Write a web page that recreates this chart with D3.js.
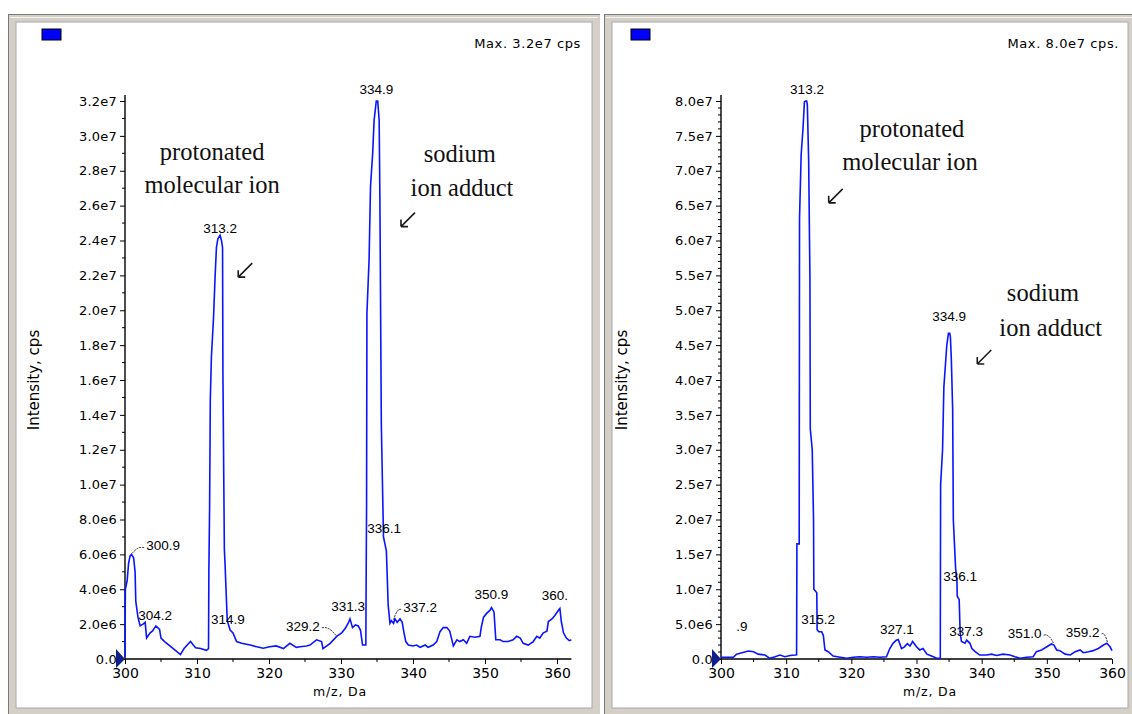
<!DOCTYPE html>
<html><head><meta charset="utf-8">
<script src="https://cdn.jsdelivr.net/npm/d3@7/dist/d3.min.js"></script>
<style>
html,body{margin:0;padding:0;background:#fff;}
svg{display:block;}
</style></head>
<body>
<svg id="chart" width="1132" height="714"></svg>
<script>
// ---------- DATA (intensities in millions of cps) ----------
const leftSpectrum = [
[300.0,0.1],[300.05,4.0],[300.3,4.5],[300.5,5.5],[300.7,5.9],[300.9,6.0],[301.2,5.8],[301.4,5.0],[301.5,3.3],[301.8,2.4],
[302.1,1.9],[302.5,2.0],[302.8,2.1],[303.0,1.2],[303.5,1.5],[303.8,1.6],[304.3,1.9],[304.8,1.7],[305.0,1.2],[305.5,1.0],
[306.4,0.7],[307.0,0.5],[307.7,0.25],[308.2,0.6],[309.1,1.0],[309.8,0.65],[310.5,0.6],[311.3,0.5],[311.6,0.6],
[311.65,5.1],[311.75,8.7],[311.85,14.9],[312.0,17.3],[312.3,19.6],[312.5,21.8],[312.7,23.6],[312.9,24.1],[313.2,24.3],
[313.4,24.0],[313.55,23.6],[313.6,16.4],[313.8,6.3],[313.9,5.4],[314.2,2.2],[314.6,1.66],[315.0,1.5],[315.5,1.0],
[316.2,0.9],[317.4,0.8],[318.3,0.7],[319.2,0.62],[320.1,0.7],[321.0,0.75],[322.0,0.6],[322.9,0.9],[323.8,0.67],[324.3,0.7],
[325.2,0.75],[325.7,0.8],[326.6,1.1],[327.3,1.0],[327.5,0.6],[328.5,0.9],[329.4,1.3],[330.1,1.5],[330.6,1.76],[331.0,2.05],
[331.25,2.3],[331.6,1.8],[332.0,1.95],[332.4,1.9],[332.7,1.66],[333.0,0.8],[333.45,0.8],[333.5,5.1],[333.55,8.7],[333.6,19.8],
[333.9,22.9],[334.1,27.1],[334.4,29.0],[334.6,30.9],[334.9,32.0],[335.1,32.0],[335.3,30.9],[335.4,26.5],[335.6,13.5],
[335.9,7.0],[336.1,6.6],[336.3,6.2],[336.4,5.0],[336.55,3.1],[336.8,2.05],[337.0,2.2],[337.3,2.05],[337.5,2.3],[337.8,2.1],
[338.2,2.3],[338.5,2.1],[338.75,1.5],[339.0,1.0],[339.35,0.8],[340.0,0.75],[340.5,0.8],[341.0,0.67],[341.7,0.8],[342.1,0.67],
[342.8,0.8],[343.3,1.0],[343.75,1.57],[344.2,1.8],[344.7,1.8],[345.1,1.6],[345.4,1.1],[345.6,0.75],[346.1,1.1],[346.5,1.0],
[347.0,1.1],[347.45,0.9],[347.9,1.3],[348.6,1.25],[349.3,1.3],[349.5,1.85],[349.8,2.4],[350.2,2.6],[350.7,2.8],[350.9,2.95],
[351.25,2.7],[351.5,1.1],[352.1,1.1],[352.5,1.0],[353.2,1.0],[353.9,1.1],[354.4,1.3],[354.9,1.2],[355.3,0.9],[356.0,0.8],
[356.7,1.0],[357.2,1.3],[357.6,1.2],[358.1,1.5],[358.6,1.6],[358.8,2.15],[359.3,2.3],[359.7,2.5],[360.2,2.8],[360.4,2.9],
[360.6,2.15],[360.9,1.5],[361.3,1.2],[361.7,1.05],[362.0,1.1]
];
const rightSpectrum = [
[300.0,0.25],[301.9,0.25],[302.4,0.7],[303.2,0.9],[304.2,1.15],[305.0,1.05],[305.7,0.7],[306.75,0.57],[307.5,0.1],[308.3,0.33],
[309.05,0.57],[309.8,0.33],[310.6,0.5],[311.35,0.57],[311.6,0.6],[311.65,16.5],[312.0,16.5],[312.05,63.2],[312.3,72.3],
[312.6,76.3],[312.8,79.9],[313.0,80.0],[313.15,80.0],[313.25,79.4],[313.45,71.5],[313.65,54.3],[313.7,33.0],[314.0,30.0],
[314.2,20.0],[314.25,10.0],[314.7,9.5],[314.75,4.2],[315.0,3.9],[315.45,3.9],[315.7,3.4],[315.95,1.3],[316.45,1.05],
[317.2,0.43],[318.3,0.25],[319.3,0.1],[320.3,0.25],[321.3,0.33],[322.35,0.25],[323.4,0.33],[324.4,0.25],[325.4,0.33],
[325.9,1.5],[326.4,2.25],[326.9,2.7],[327.2,2.8],[327.7,1.5],[328.1,1.7],[328.6,2.2],[329.0,1.85],[329.4,2.5],[330.0,1.75],
[330.5,1.3],[331.0,1.5],[331.6,0.7],[332.3,0.43],[333.1,0.1],[333.65,0.1],[333.7,25.0],[334.0,30.0],[334.2,39.0],
[334.65,45.0],[334.9,46.7],[335.1,46.7],[335.2,46.2],[335.35,42.9],[335.55,35.7],[335.65,20.0],[336.0,13.0],[336.2,11.3],
[336.25,9.0],[336.55,8.5],[336.7,3.7],[336.9,2.5],[337.45,2.25],[337.7,2.7],[338.2,2.25],[338.5,1.5],[339.0,1.05],
[339.7,0.57],[340.8,0.57],[341.5,0.7],[342.3,0.5],[343.3,0.7],[344.35,0.57],[345.1,0.33],[345.9,0.1],[346.9,0.25],
[347.9,0.33],[348.4,1.05],[349.2,1.3],[350.0,1.75],[350.7,2.15],[351.1,2.0],[351.5,1.3],[352.0,1.2],[352.8,0.7],
[353.6,0.57],[354.35,1.05],[355.1,1.3],[355.6,0.9],[356.4,1.05],[357.1,1.2],[357.9,1.5],[358.7,2.0],[359.2,2.25],
[359.7,1.75],[360.0,1.2]
];
const xTicks = [300,310,320,330,340,350,360];
const leftYTicks = [0,2,4,6,8,10,12,14,16,18,20,22,24,26,28,30,32];
const rightYTicks = [0,5,10,15,20,25,30,35,40,45,50,55,60,65,70,75,80];
const leftMaxText = "Max. 3.2e7 cps";
const rightMaxText = "Max. 8.0e7 cps.";
const xTitle = "m/z, Da";
const yTitle = "Intensity, cps";
// peak labels: [text, mz of label centre, intensity of label centre, leader target mz, leader target intensity]
const leftPeakLabels = [
["334.9",334.9,32.7],["313.2",313.2,24.7],["300.9",305.3,6.5,300.9,6.0],["336.1",336.0,7.5],
["304.2",304.2,2.5],["314.9",314.3,2.25],["329.2",324.7,1.9,329.3,1.35],["331.3",331.0,3.05],
["337.2",341.0,2.95,337.3,2.25],["350.9",350.9,3.7],["360.",359.7,3.65]
];
const rightPeakLabels = [
["313.2",313.2,81.7],["334.9",335.0,49.2],["336.1",336.7,11.9],[".9",303.2,4.75],["315.2",314.9,5.75],
["327.1",327.0,4.3],["337.3",337.6,4.0],["351.0",346.6,3.7,351.0,2.3],["359.2",355.5,3.9,359.3,2.4]
];
// serif annotations: [text, mz, intensity] (centre positions)
const leftNotes = [["protonated",312.1,29.1],["molecular ion",312.1,27.2],["sodium",346.5,29.0],["ion adduct",346.8,27.05]];
const leftArrows = [[316.7,22.3],[339.3,25.2]];
const rightNotes = [["protonated",329.3,76.0],["molecular ion",329.0,71.3],["sodium",349.4,52.5],["ion adduct",350.6,47.6]];
const rightArrows = [[317.6,66.4],[340.4,43.3]];

// ---------- DRAW ----------
const SANS = "DejaVu Sans, Verdana, sans-serif";
const svg = d3.select("#chart");
svg.append("rect").attr("width",1132).attr("height",714).attr("fill","#ffffff");

function fmtY(v){ // v in millions
  if(v===0) return "0.0";
  const cps = v*1e6;
  const e = Math.floor(Math.log10(cps)+1e-9);
  return (cps/Math.pow(10,e)).toFixed(1)+"e"+e;
}

function frame(x0,w){
  const g = svg.append("g");
  g.append("rect").attr("x",x0).attr("y",14).attr("width",w).attr("height",700).attr("fill","#d4d0c8");
  g.append("line").attr("x1",x0).attr("x2",x0+w).attr("y1",14.5).attr("y2",14.5).attr("stroke","#7a7a7a");
  g.append("line").attr("x1",x0+0.5).attr("x2",x0+0.5).attr("y1",14).attr("y2",714).attr("stroke","#7a7a7a");
  g.append("line").attr("x1",x0+2).attr("x2",x0+w-2).attr("y1",17.5).attr("y2",17.5).attr("stroke","#f4f4f0");
  g.append("rect").attr("x",x0+8).attr("y",22).attr("width",w-16).attr("height",686).attr("fill","#ffffff")
    .attr("stroke","#a8a8a8").attr("stroke-width",1);
}
frame(8,592);
frame(604,532);

function panel(cfg){
  const g = svg.append("g");
  const x = d3.scaleLinear().domain(cfg.xDomain).range(cfg.xRange);
  const y = d3.scaleLinear().domain(cfg.yDomain).range([659,101]);
  // legend box
  g.append("rect").attr("x",cfg.boxX).attr("y",29).attr("width",19).attr("height",11)
    .attr("fill","#0000ff").attr("stroke","#000").attr("stroke-width",1);
  g.append("text").attr("x",cfg.maxX).attr("y",48).attr("text-anchor","end")
    .attr("font-family",SANS).attr("font-size",13).attr("letter-spacing","0.6").attr("fill","#000")
    .text(cfg.maxText);
  // y axis
  const yAxis = d3.axisLeft(y).tickValues(cfg.yTicks).tickFormat(fmtY).tickSize(5).tickPadding(3);
  const ya = g.append("g").attr("transform",`translate(${cfg.xRange[0]},0)`).call(yAxis);
  ya.select(".domain").attr("d",`M0,${y(0)}V${y(cfg.yDomain[1])-6}`).attr("stroke","#000").attr("stroke-width",1.4);
  // minor y ticks
  const minors = d3.range(cfg.yDomain[0], cfg.yDomain[1]+0.001, 1).filter(v=>!cfg.yTicks.includes(v));
  ya.selectAll(".minor").data(minors).enter().append("line").attr("class","minor")
    .attr("x1",-3).attr("x2",0).attr("y1",d=>y(d)).attr("y2",d=>y(d)).attr("stroke","#000");
  ya.selectAll(".tick text").attr("font-family",SANS).attr("font-size",13).attr("letter-spacing","0.2").attr("fill","#000");
  // x axis
  const xAxis = d3.axisBottom(x).tickValues(xTicks).tickFormat(d3.format("d")).tickSize(5).tickPadding(4);
  const xa = g.append("g").attr("transform",`translate(0,${y(0)})`).call(xAxis);
  xa.select(".domain").attr("d",`M${cfg.xRange[0]},0H${cfg.xRange[1]}`).attr("stroke","#000").attr("stroke-width",1.4);
  const xm = d3.range(cfg.xDomain[0]+5, cfg.xDomain[1]+0.01, 5).filter(v=>!xTicks.includes(v));
  xa.selectAll(".minor").data(xm).enter().append("line").attr("class","minor")
    .attr("x1",d=>x(d)).attr("x2",d=>x(d)).attr("y1",0).attr("y2",3).attr("stroke","#000");
  xa.selectAll(".tick text").attr("font-family",SANS).attr("font-size",14).attr("fill","#000");
  g.selectAll(".tick line").attr("stroke","#000");
  // origin marker
  const ox = x(cfg.xDomain[0]), oy = y(0);
  g.append("path").attr("d",`M${ox-9},${oy-10}L${ox},${oy}L${ox-9},${oy+9}Z`).attr("fill","#10208a");
  // titles
  g.append("text").attr("transform",`translate(${cfg.yTitleX},380) rotate(-90)`).attr("text-anchor","middle")
    .attr("font-family",SANS).attr("font-size",15).attr("fill","#000").text(yTitle);
  g.append("text").attr("x",cfg.xTitleX).attr("y",696).attr("text-anchor","middle")
    .attr("font-family",SANS).attr("font-size",12.5).attr("letter-spacing","0.8")
    .attr("fill","#000").text(xTitle);
  // spectrum line
  const line = d3.line().x(d=>x(d[0])).y(d=>y(d[1]));
  g.append("path").datum(cfg.spectrum).attr("d",line).attr("fill","none").attr("stroke","#0a14ff")
    .attr("stroke-width",1.6).attr("stroke-linejoin","miter");
  // leaders
  cfg.labels.filter(l=>l.length>3).forEach(l=>{
    const tx = x(l[3]), ty = y(l[4]);
    const lx = x(l[1]) + (l[3] > l[1] ? 19 : -19), ly = y(l[2]) + 2;
    g.append("path").attr("d",`M${lx},${ly}Q${(lx+tx)/2},${ly-2} ${tx},${ty}`).attr("fill","none")
      .attr("stroke","#222").attr("stroke-width",1).attr("stroke-dasharray","2,1");
  });
  // peak labels
  g.selectAll(".pl").data(cfg.labels).enter().append("text").attr("class","pl")
    .attr("x",d=>x(d[1])).attr("y",d=>y(d[2])).attr("dy","0.35em").attr("text-anchor","middle")
    .attr("font-family","Liberation Sans, Arial, sans-serif").attr("font-size",13.5).attr("fill","#000")
    .text(d=>d[0]);
  // serif notes
  g.selectAll(".note").data(cfg.notes).enter().append("text").attr("class","note")
    .attr("x",d=>x(d[1])).attr("y",d=>y(d[2])).attr("dy","0.35em").attr("text-anchor","middle")
    .attr("font-family","Liberation Serif, Times New Roman, serif").attr("font-size",24.5).attr("fill","#111")
    .text(d=>d[0]);
  // arrows (pointing down-left)
  cfg.arrows.forEach(a=>{
    const ax = x(a[0]), ay = y(a[1]);
    g.append("path").attr("d",`M${ax+7},${ay-7}L${ax-7},${ay+7}M${ax-7},${ay+7}L${ax-7},${ay}M${ax-7},${ay+7}L${ax},${ay+7}`)
      .attr("fill","none").attr("stroke","#1a1a1a").attr("stroke-width",1.6);
  });
}

panel({xDomain:[300,362], xRange:[125,571.4], yDomain:[0,32], yTicks:leftYTicks, spectrum:leftSpectrum,
  labels:leftPeakLabels, notes:leftNotes, arrows:leftArrows, boxX:42, maxX:581, maxText:leftMaxText,
  yTitleX:39, xTitleX:340});
panel({xDomain:[300,360], xRange:[721,1112], yDomain:[0,80], yTicks:rightYTicks, spectrum:rightSpectrum,
  labels:rightPeakLabels, notes:rightNotes, arrows:rightArrows, boxX:631, maxX:1119, maxText:rightMaxText,
  yTitleX:627, xTitleX:930});
</script>
</body></html>
